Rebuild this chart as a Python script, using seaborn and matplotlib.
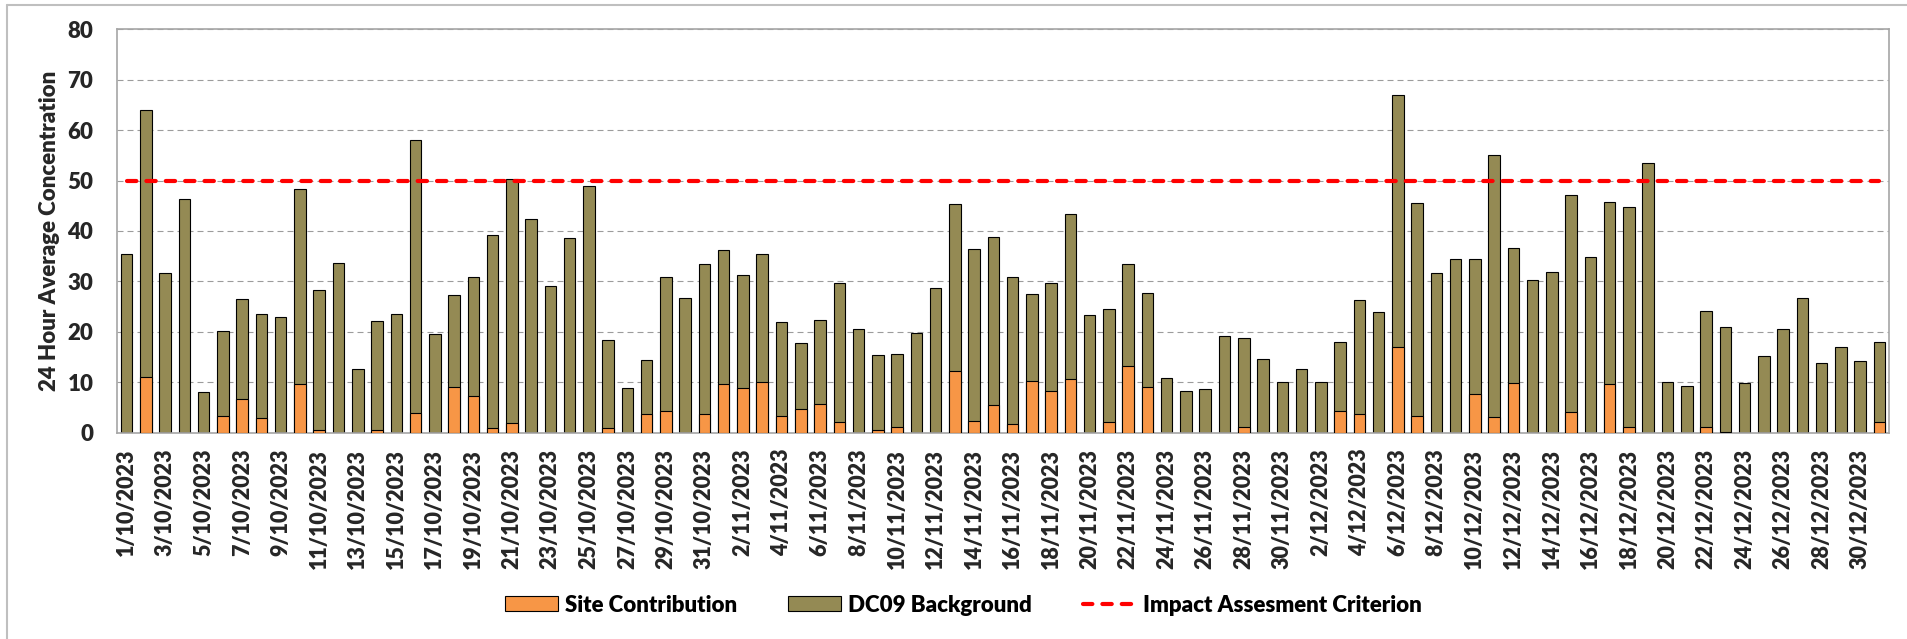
import numpy as np
import pandas as pd
import matplotlib
matplotlib.use("Agg")
import matplotlib.pyplot as plt
import seaborn as sns
from matplotlib.patches import Patch
from matplotlib.lines import Line2D

sns.set_theme(style="white")
plt.rcParams["font.family"] = ["Lato", "DejaVu Sans"]
plt.rcParams["text.color"] = "black"
W = 780  # between bold and heavy

# ---------------------------------------------------------------
# DATA  (daily values, 1 Oct - 31 Dec 2023)
# ---------------------------------------------------------------
dates = [f"{d.day}/{d.month}/{d.year}" for d in pd.date_range("2023-10-01", "2023-12-31")]

# total 24h average (site + background)
total_conc = [
    35.4, 64.0, 31.7, 46.3, 8.1, 20.2, 26.6, 23.6, 22.9, 48.3,
    28.3, 33.7, 12.6, 22.1, 23.6, 58.0, 19.5, 27.3, 30.8, 39.3,
    50.3, 42.3, 29.1, 38.7, 49.0, 18.4, 8.9, 14.5, 30.8, 26.8,
    33.5, 36.2, 31.3, 35.4, 21.9, 17.7, 22.4, 29.6, 20.6, 15.5,
    15.7, 19.7, 28.6, 45.3, 36.4, 38.9, 30.8, 27.6, 29.6, 43.3,
    23.4, 24.6, 33.5, 27.8, 10.8, 8.3, 8.6, 19.2, 18.7, 14.7,
    10.0, 12.6, 10.0, 18.0, 26.3, 23.9, 66.9, 45.6, 31.7, 34.4,
    34.4, 55.1, 36.6, 30.2, 31.9, 47.2, 34.9, 45.8, 44.8, 53.4,
    10.0, 9.3, 24.1, 20.9, 9.9, 15.2, 20.6, 26.8, 13.8, 17.0,
    14.3, 18.0,
]

site_contribution = [
    0.0, 11.0, 0.0, 0.0, 0.0, 3.4, 6.7, 3.0, 0.0, 9.6,
    0.5, 0.0, 0.0, 0.5, 0.0, 3.9, 0.0, 9.1, 7.3, 1.0,
    1.9, 0.0, 0.0, 0.0, 0.0, 1.0, 0.0, 3.7, 4.4, 0.0,
    3.7, 9.6, 8.9, 10.0, 3.4, 4.7, 5.6, 2.2, 0.0, 0.5,
    1.2, 0.0, 0.0, 12.3, 2.4, 5.4, 1.7, 10.3, 8.3, 10.6,
    0.0, 2.2, 13.3, 9.1, 0.0, 0.0, 0.0, 0.0, 1.2, 0.0,
    0.0, 0.0, 0.0, 4.4, 3.7, 0.0, 17.0, 3.4, 0.0, 0.0,
    7.6, 3.2, 9.8, 0.0, 0.0, 4.2, 0.0, 9.6, 1.2, 0.0,
    0.0, 0.0, 1.2, 0.2, 0.0, 0.0, 0.0, 0.0, 0.0, 0.0,
    0.0, 2.2,
]

criterion = [50.0] * len(dates)

ORANGE = "#F79646"
OLIVE = "#948A54"
GRID = "#9C9C9C"

df = pd.DataFrame({"date": dates, "total": total_conc,
                   "site": site_contribution, "criterion": criterion})

# ---------------------------------------------------------------
# PLOT
# ---------------------------------------------------------------
fig = plt.figure(figsize=(19.08, 6.39), dpi=100)
ax = fig.add_axes([117 / 1908, 1 - 432.7 / 639, 1772 / 1908, (432.7 - 29.3) / 639])

# background stacked on site: draw total first, site over it
sns.barplot(data=df, x="date", y="total", color=OLIVE, saturation=1, width=0.6,
            edgecolor="black", linewidth=0.8, errorbar=None, ax=ax, zorder=2)
sns.barplot(data=df, x="date", y="site", color=ORANGE, saturation=1, width=0.6,
            edgecolor="black", linewidth=0.8, errorbar=None, ax=ax, zorder=3)

ax.plot(np.arange(len(dates)), df["criterion"], color="#FF0000", lw=3.0,
        dashes=(2.25, 2.4), dash_capstyle="round", zorder=4)

ax.set_xlim(-0.5, len(dates) - 0.5)
ax.set_ylim(0, 80)
ax.set_yticks(np.arange(0, 81, 10))
ax.yaxis.grid(True, color=GRID, linestyle=(0, (5.4, 3.6)), linewidth=0.8, zorder=0)
ax.set_axisbelow(True)

ax.set_xticks(np.arange(0, len(dates), 2))
ax.set_xticklabels(dates[::2], rotation=90, fontsize=15.5, fontweight=W)
ax.set_xticks(np.arange(-0.5, len(dates), 2), minor=True)
ax.tick_params(axis="x", which="major", length=0, pad=11.5)
ax.tick_params(axis="x", which="minor", length=4.3, color="#A6A6A6", width=1)
ax.tick_params(axis="y", length=6.5, color="#A6A6A6", width=1, pad=10.5, labelsize=16)
for t in ax.get_yticklabels():
    t.set_fontweight(W)

ax.set_xlabel("")
ax.set_ylabel("24 Hour Average Concentration", fontsize=16, fontweight=W)
ax.yaxis.set_label_coords(-0.0381, 0.5)
ax.yaxis.label.set_verticalalignment("center")

for s in ax.spines.values():
    s.set_color("#A6A6A6")
    s.set_linewidth(1.2)

handles = [
    Patch(facecolor=ORANGE, edgecolor="black", linewidth=0.8, label="Site Contribution"),
    Patch(facecolor=OLIVE, edgecolor="black", linewidth=0.8, label="DC09 Background"),
    Line2D([], [], color="#FF0000", lw=3.0, dashes=(2.25, 2.4), dash_capstyle="round",
           label="Impact Assesment Criterion"),
]
fig.legend(handles=handles, loc="center", bbox_to_anchor=(963 / 1908, 1 - 605 / 639),
           ncol=3, frameon=False, handlelength=2.4, handleheight=0.65,
           handletextpad=0.3, columnspacing=2.3, prop={"weight": W, "size": 16})

# chart area border (left and top visible)
fig.add_artist(Line2D([7 / 1908, 7 / 1908], [0, 1 - 5 / 639], transform=fig.transFigure,
                      color="#BFBFBF", lw=1.5))
fig.add_artist(Line2D([7 / 1908, 1], [1 - 5 / 639, 1 - 5 / 639], transform=fig.transFigure,
                      color="#BFBFBF", lw=1.5))

fig.savefig("out.png", dpi=100, facecolor="white")
